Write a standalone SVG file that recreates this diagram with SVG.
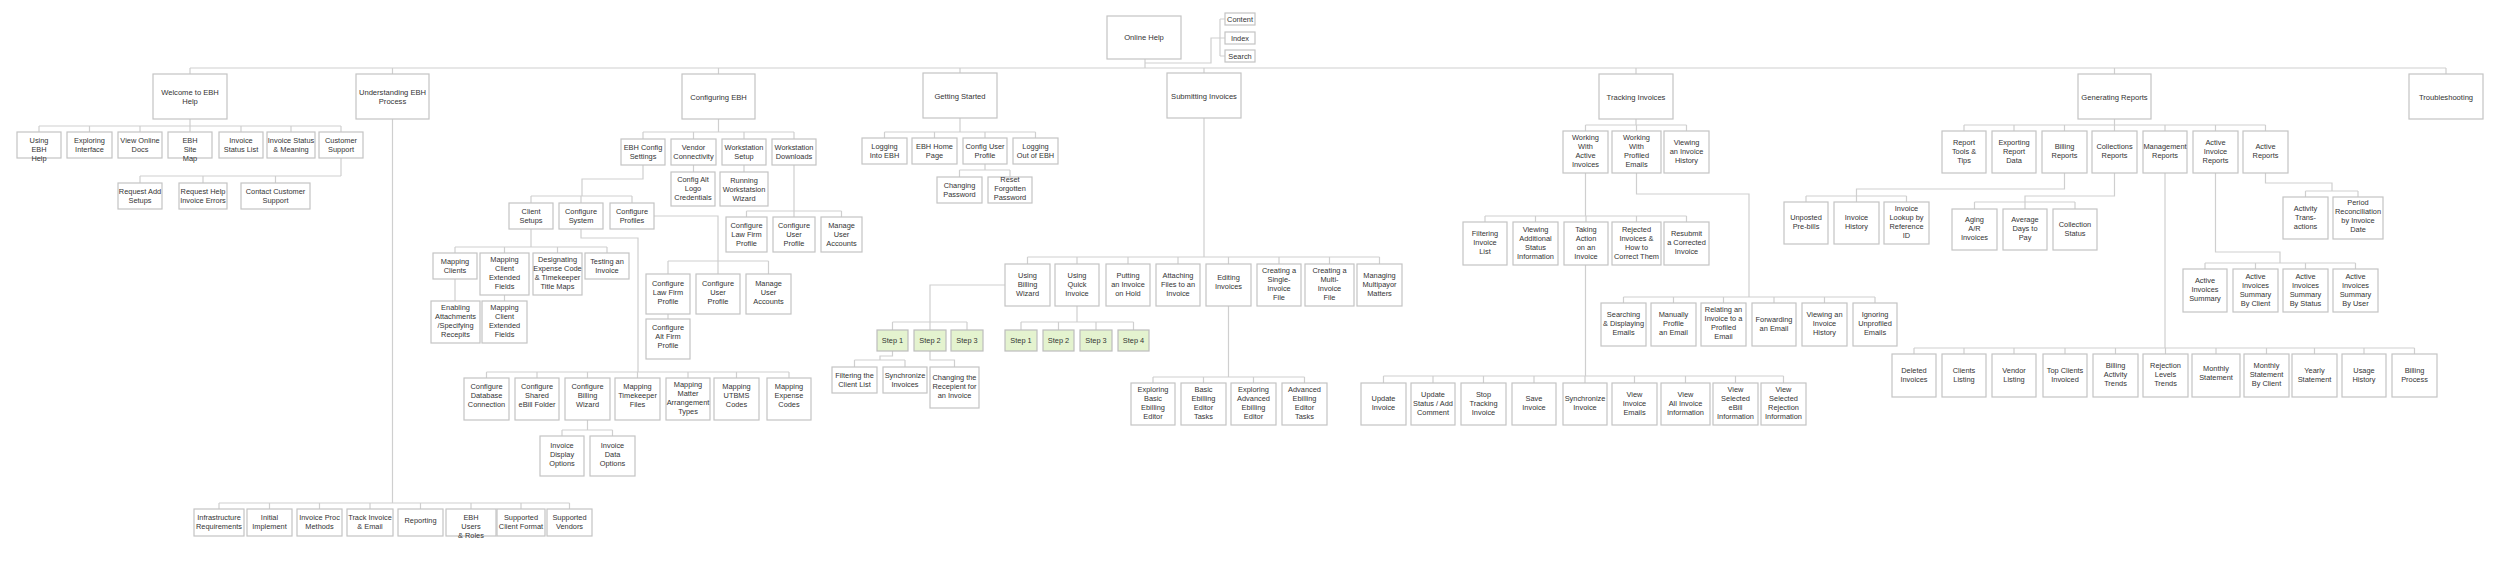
<svg xmlns="http://www.w3.org/2000/svg" width="2500" height="562" viewBox="0 0 2500 562">
<style>
rect{fill:#fff;stroke:#c4c4c4;stroke-width:1.2}
.s rect{fill:#e4f3cf;stroke:#bdbdbd}
text{font-family:"Liberation Sans",Arial,sans-serif;font-size:7.4px;fill:#333;text-anchor:middle}
.t text{font-size:7.6px}
#connectors path{fill:none;stroke:#cfcfcf;stroke-width:1.2}
</style>
<rect x="0" y="0" width="2500" height="562" style="fill:#fff;stroke:none"/>
<g id="connectors">
<path d="M190 68H2446M190 68V74M392.5 68V74M718.5 68V74M960 68V73M1204 68V73M1636 68V74M2114.5 68V74M2446 68V74"/>
<path d="M1145 59V68M1145 63H1211V38H1220M1220 19V56M1220 19H1225M1220 38H1225M1220 56H1225"/>
<path d="M190 119V126M39 126H341M39 126V132M89.5 126V132M140 126V132M190 126V132M241 126V132M291 126V132M341 126V132"/>
<path d="M341 158V176M140 176H341M140 176V183M203 176V183M275.5 176V183"/>
<path d="M392.5 119V503M219 503H569.5M219 503V509M269.5 503V509M319.5 503V509M370 503V509M420.5 503V509M471 503V509M521 503V509M569.5 503V509"/>
<path d="M718.5 119V132M643 132H794M643 132V139M693.5 132V139M744 132V139M794 132V139M693.5 165V172M744 165V172"/>
<path d="M643 165V179H582V196M531 196H632M531 196V203M581 196V203M632 196V203"/>
<path d="M531 229V247M455 247H607M455 247V253M504.5 247V253M557.5 247V253M607 247V253M455 279V301M504.5 295V301"/>
<path d="M581 229V238H638V372M486.5 372H789M486.5 372V378M537 372V378M587.5 372V378M637.5 372V378M688 372V378M736.5 372V378M789 372V378"/>
<path d="M587.5 420V430M562 430H612.5M562 430V436M612.5 430V436"/>
<path d="M654 216H718V261M668 261H768.5M668 261V274M718 261V274M768.5 261V274M668 314V319"/>
<path d="M794 165V211M746.5 211H841.5M746.5 211V217M794 211V217M841.5 211V217"/>
<path d="M960 118V132M884.5 132H1035.5M884.5 132V138M934.5 132V138M985 132V138M1035.5 132V138M985 164V170M959.5 170H1010M959.5 170V177M1010 170V177"/>
<path d="M1204 118V257M1027.5 257H1379.5M1027.5 257V264M1077 257V264M1128 257V264M1178 257V264M1228.5 257V264M1279 257V264M1329.5 257V264M1379.5 257V264"/>
<path d="M1005 285H930V322M892.5 322H967M892.5 322V330M930 322V330M967 322V330"/>
<path d="M892.5 351V356H880V360M854.5 360H905M854.5 360V367M905 360V367M930 351V360H954.5V367"/>
<path d="M1077 306V322M1021 322H1133.5M1021 322V330M1058.5 322V330M1096 322V330M1133.5 322V330"/>
<path d="M1228.5 306V377M1153 377H1304.5M1153 377V383M1203.5 377V383M1253.5 377V383M1304.5 377V383"/>
<path d="M1636 119V125M1585.5 125H1686.5M1585.5 125V131M1636.5 125V131M1686.5 125V131"/>
<path d="M1585.5 173V216M1485 216H1686.5M1485 216V222M1535.5 216V222M1586 216V222M1636.5 216V222M1686.5 216V222"/>
<path d="M1585.5 265V376M1383.5 376H1783.5M1383.5 376V383M1433 376V383M1483.5 376V383M1534 376V383M1585 376V383M1634.5 376V383M1685.5 376V383M1735.5 376V383M1783.5 376V383"/>
<path d="M1636.5 173V194H1749V297M1623.5 297H1875M1623.5 297V303M1673.5 297V303M1723.5 297V303M1774 297V303M1824.5 297V303M1875 297V303"/>
<path d="M2114.5 119V125M1964 125H2265.5M1964 125V131M2014 125V131M2064.5 125V131M2114.5 125V131M2165 125V131M2215.5 125V131M2265.5 125V131"/>
<path d="M2064.5 173V189H1856.5V196M1806 196H1906.5M1806 196V202M1856.5 196V202M1906.5 196V202"/>
<path d="M2114.5 173V196H2025V202M1974.5 202H2075M1974.5 202V209M2025 202V209M2075 202V209"/>
<path d="M2165 173V348M1914 348H2414.5M1914 348V354M1964 348V354M2014 348V354M2065 348V354M2115.5 348V354M2165.5 348V354M2216 348V354M2266.5 348V354M2314.5 348V354M2364 348V354M2414.5 348V354"/>
<path d="M2215.5 173V252H2280V263M2205 263H2355.5M2205 263V269M2255.5 263V269M2305.5 263V269M2355.5 263V269"/>
<path d="M2265.5 173V183H2332V191M2305.5 191H2358M2305.5 191V197M2358 191V197"/>
</g>

<g id="online-help" class="t"><rect x="1107" y="16" width="74" height="43"/><text x="1144" y="39.7">Online Help</text></g>
<g id="content"><rect x="1225" y="13" width="30" height="12"/><text x="1240" y="21.7">Content</text></g>
<g id="index"><rect x="1225" y="32" width="30" height="12"/><text x="1240" y="40.7">Index</text></g>
<g id="search"><rect x="1225" y="50" width="30" height="12"/><text x="1240" y="58.7">Search</text></g>

<g id="welcome" class="t"><rect x="153" y="74" width="74" height="45"/><text x="190" y="95">Welcome to EBH<tspan x="190" dy="9">Help</tspan></text></g>
<g id="understanding" class="t"><rect x="356" y="74" width="73" height="45"/><text x="392.5" y="95">Understanding EBH<tspan x="392.5" dy="9">Process</tspan></text></g>
<g id="configuring" class="t"><rect x="682" y="74" width="73" height="45"/><text x="718.5" y="99.5">Configuring EBH</text></g>
<g id="getting-started" class="t"><rect x="923" y="73" width="74" height="45"/><text x="960" y="98.5">Getting Started</text></g>
<g id="submitting" class="t"><rect x="1167" y="73" width="74" height="45"/><text x="1204" y="98.5">Submitting Invoices</text></g>
<g id="tracking" class="t"><rect x="1599" y="74" width="74" height="45"/><text x="1636" y="99.5">Tracking Invoices</text></g>
<g id="generating" class="t"><rect x="2078" y="74" width="73" height="45"/><text x="2114.5" y="99.5">Generating Reports</text></g>
<g id="troubleshooting" class="t"><rect x="2409" y="74" width="74" height="45"/><text x="2446" y="99.5">Troubleshooting</text></g>

<g id="using-ebh-help"><rect x="17" y="132" width="44" height="26"/><text x="39" y="142.8">Using<tspan x="39" dy="9">EBH</tspan><tspan x="39" dy="9">Help</tspan></text></g>
<g id="exploring-interface"><rect x="67" y="132" width="45" height="26"/><text x="89.5" y="142.8">Exploring<tspan x="89.5" dy="9">Interface</tspan></text></g>
<g id="view-online-docs"><rect x="118" y="132" width="44" height="26"/><text x="140" y="142.8">View Online<tspan x="140" dy="9">Docs</tspan></text></g>
<g id="ebh-site-map"><rect x="168" y="132" width="44" height="26"/><text x="190" y="142.8">EBH<tspan x="190" dy="9">Site</tspan><tspan x="190" dy="9">Map</tspan></text></g>
<g id="invoice-status-list"><rect x="219" y="132" width="44" height="26"/><text x="241" y="142.8">Invoice<tspan x="241" dy="9">Status List</tspan></text></g>
<g id="invoice-status-meaning"><rect x="267" y="132" width="48" height="26"/><text x="291" y="142.8">Invoice Status<tspan x="291" dy="9">&amp; Meaning</tspan></text></g>
<g id="customer-support"><rect x="319" y="132" width="44" height="26"/><text x="341" y="142.8">Customer<tspan x="341" dy="9">Support</tspan></text></g>

<g id="request-add-setups"><rect x="118" y="183" width="44" height="26"/><text x="140" y="193.8">Request Add<tspan x="140" dy="9">Setups</tspan></text></g>
<g id="request-help-invoice-errors"><rect x="179" y="183" width="48" height="26"/><text x="203" y="193.8">Request Help<tspan x="203" dy="9">Invoice Errors</tspan></text></g>
<g id="contact-customer-support"><rect x="241" y="183" width="69" height="26"/><text x="275.5" y="193.8">Contact Customer<tspan x="275.5" dy="9">Support</tspan></text></g>

<g id="infrastructure-requirements"><rect x="194" y="509" width="50" height="27"/><text x="219" y="519.9">Infrastructure<tspan x="219" dy="9">Requirements</tspan></text></g>
<g id="initial-implement"><rect x="247" y="509" width="45" height="27"/><text x="269.5" y="519.9">Initial<tspan x="269.5" dy="9">Implement</tspan></text></g>
<g id="invoice-proc-methods"><rect x="297" y="509" width="45" height="27"/><text x="319.5" y="519.9">Invoice Proc<tspan x="319.5" dy="9">Methods</tspan></text></g>
<g id="track-invoice-email"><rect x="347" y="509" width="46" height="27"/><text x="370" y="519.9">Track Invoice<tspan x="370" dy="9">&amp; Email</tspan></text></g>
<g id="reporting"><rect x="398" y="509" width="45" height="27"/><text x="420.5" y="523">Reporting</text></g>
<g id="ebh-users-roles"><rect x="446" y="509" width="50" height="27"/><text x="471" y="519.9">EBH<tspan x="471" dy="9">Users</tspan><tspan x="471" dy="9">&amp; Roles</tspan></text></g>
<g id="supported-client-format"><rect x="497" y="509" width="48" height="27"/><text x="521" y="519.9">Supported<tspan x="521" dy="9">Client Format</tspan></text></g>
<g id="supported-vendors"><rect x="547" y="509" width="45" height="27"/><text x="569.5" y="519.9">Supported<tspan x="569.5" dy="9">Vendors</tspan></text></g>

<g id="ebh-config-settings"><rect x="621" y="139" width="44" height="26"/><text x="643" y="149.8">EBH Config<tspan x="643" dy="9">Settings</tspan></text></g>
<g id="vendor-connectivity"><rect x="671" y="139" width="45" height="26"/><text x="693.5" y="149.8">Vendor<tspan x="693.5" dy="9">Connectivity</tspan></text></g>
<g id="workstation-setup"><rect x="722" y="139" width="44" height="26"/><text x="744" y="149.8">Workstation<tspan x="744" dy="9">Setup</tspan></text></g>
<g id="workstation-downloads"><rect x="772" y="139" width="44" height="26"/><text x="794" y="149.8">Workstation<tspan x="794" dy="9">Downloads</tspan></text></g>
<g id="config-alt-logo"><rect x="671" y="172" width="44" height="34"/><text x="693" y="181.5">Config Alt<tspan x="693" dy="9">Logo</tspan><tspan x="693" dy="9">Credentials</tspan></text></g>
<g id="running-workstation-wizard"><rect x="720" y="172" width="48" height="34"/><text x="744" y="182.5">Running<tspan x="744" dy="9">Workstatsion</tspan><tspan x="744" dy="9">Wizard</tspan></text></g>

<g id="client-setups"><rect x="509" y="203" width="44" height="26"/><text x="531" y="213.8">Client<tspan x="531" dy="9">Setups</tspan></text></g>
<g id="configure-system"><rect x="559" y="203" width="44" height="26"/><text x="581" y="213.8">Configure<tspan x="581" dy="9">System</tspan></text></g>
<g id="configure-profiles"><rect x="610" y="203" width="44" height="26"/><text x="632" y="213.8">Configure<tspan x="632" dy="9">Profiles</tspan></text></g>

<g id="mapping-clients"><rect x="433" y="253" width="44" height="26"/><text x="455" y="263.8">Mapping<tspan x="455" dy="9">Clients</tspan></text></g>
<g id="mapping-client-extended-fields"><rect x="480" y="253" width="49" height="42"/><text x="504.5" y="262">Mapping<tspan x="504.5" dy="9">Client</tspan><tspan x="504.5" dy="9">Extended</tspan><tspan x="504.5" dy="9">Fields</tspan></text></g>
<g id="designating-expense-code"><rect x="533" y="253" width="49" height="42"/><text x="557.5" y="262">Designating<tspan x="557.5" dy="9">Expense Code</tspan><tspan x="557.5" dy="9">&amp; Timekeeper</tspan><tspan x="557.5" dy="9">Title Maps</tspan></text></g>
<g id="testing-an-invoice"><rect x="585" y="253" width="44" height="26"/><text x="607" y="263.8">Testing an<tspan x="607" dy="9">Invoice</tspan></text></g>
<g id="enabling-attachments"><rect x="431" y="301" width="49" height="42"/><text x="455.5" y="310">Enabling<tspan x="455.5" dy="9">Attachments</tspan><tspan x="455.5" dy="9">/Specifying</tspan><tspan x="455.5" dy="9">Recepits</tspan></text></g>
<g id="mapping-client-extended-fields-2"><rect x="482" y="301" width="45" height="42"/><text x="504.5" y="310">Mapping<tspan x="504.5" dy="9">Client</tspan><tspan x="504.5" dy="9">Extended</tspan><tspan x="504.5" dy="9">Fields</tspan></text></g>

<g id="configure-database-connection"><rect x="464" y="378" width="45" height="42"/><text x="486.5" y="389">Configure<tspan x="486.5" dy="9">Database</tspan><tspan x="486.5" dy="9">Connection</tspan></text></g>
<g id="configure-shared-ebill-folder"><rect x="515" y="378" width="44" height="42"/><text x="537" y="389">Configure<tspan x="537" dy="9">Shared</tspan><tspan x="537" dy="9">eBill Folder</tspan></text></g>
<g id="configure-billing-wizard"><rect x="565" y="378" width="45" height="42"/><text x="587.5" y="389">Configure<tspan x="587.5" dy="9">Billing</tspan><tspan x="587.5" dy="9">Wizard</tspan></text></g>
<g id="mapping-timekeeper-files"><rect x="615" y="378" width="45" height="42"/><text x="637.5" y="389">Mapping<tspan x="637.5" dy="9">Timekeeper</tspan><tspan x="637.5" dy="9">Files</tspan></text></g>
<g id="mapping-matter-arrangement-types"><rect x="666" y="378" width="44" height="42"/><text x="688" y="386.7">Mapping<tspan x="688" dy="9">Matter</tspan><tspan x="688" dy="9">Arrangement</tspan><tspan x="688" dy="9">Types</tspan></text></g>
<g id="mapping-utbms-codes"><rect x="714" y="378" width="45" height="42"/><text x="736.5" y="389">Mapping<tspan x="736.5" dy="9">UTBMS</tspan><tspan x="736.5" dy="9">Codes</tspan></text></g>
<g id="mapping-expense-codes"><rect x="767" y="378" width="44" height="42"/><text x="789" y="389">Mapping<tspan x="789" dy="9">Expense</tspan><tspan x="789" dy="9">Codes</tspan></text></g>
<g id="invoice-display-options"><rect x="540" y="436" width="44" height="40"/><text x="562" y="447.5">Invoice<tspan x="562" dy="9">Display</tspan><tspan x="562" dy="9">Options</tspan></text></g>
<g id="invoice-data-options"><rect x="590" y="436" width="45" height="40"/><text x="612.5" y="447.5">Invoice<tspan x="612.5" dy="9">Data</tspan><tspan x="612.5" dy="9">Options</tspan></text></g>

<g id="profiles-law-firm"><rect x="646" y="274" width="44" height="40"/><text x="668" y="285.5">Configure<tspan x="668" dy="9">Law Firm</tspan><tspan x="668" dy="9">Profile</tspan></text></g>
<g id="profiles-user"><rect x="696" y="274" width="44" height="40"/><text x="718" y="285.5">Configure<tspan x="718" dy="9">User</tspan><tspan x="718" dy="9">Profile</tspan></text></g>
<g id="profiles-manage-users"><rect x="746" y="274" width="45" height="40"/><text x="768.5" y="285.5">Manage<tspan x="768.5" dy="9">User</tspan><tspan x="768.5" dy="9">Accounts</tspan></text></g>
<g id="profiles-alt-firm"><rect x="646" y="319" width="44" height="40"/><text x="668" y="330">Configure<tspan x="668" dy="9">Alt Firm</tspan><tspan x="668" dy="9">Profile</tspan></text></g>

<g id="downloads-law-firm"><rect x="726" y="217" width="41" height="35"/><text x="746.5" y="228">Configure<tspan x="746.5" dy="9">Law Firm</tspan><tspan x="746.5" dy="9">Profile</tspan></text></g>
<g id="downloads-user"><rect x="773" y="217" width="42" height="35"/><text x="794" y="228">Configure<tspan x="794" dy="9">User</tspan><tspan x="794" dy="9">Profile</tspan></text></g>
<g id="downloads-manage-users"><rect x="821" y="217" width="41" height="35"/><text x="841.5" y="228">Manage<tspan x="841.5" dy="9">User</tspan><tspan x="841.5" dy="9">Accounts</tspan></text></g>

<g id="logging-into"><rect x="862" y="138" width="45" height="26"/><text x="884.5" y="148.8">Logging<tspan x="884.5" dy="9">Into EBH</tspan></text></g>
<g id="ebh-home-page"><rect x="912" y="138" width="45" height="26"/><text x="934.5" y="148.8">EBH Home<tspan x="934.5" dy="9">Page</tspan></text></g>
<g id="config-user-profile"><rect x="963" y="138" width="44" height="26"/><text x="985" y="148.8">Config User<tspan x="985" dy="9">Profile</tspan></text></g>
<g id="logging-out"><rect x="1013" y="138" width="45" height="26"/><text x="1035.5" y="148.8">Logging<tspan x="1035.5" dy="9">Out of EBH</tspan></text></g>
<g id="changing-password"><rect x="937" y="177" width="45" height="26"/><text x="959.5" y="187.8">Changing<tspan x="959.5" dy="9">Password</tspan></text></g>
<g id="reset-password"><rect x="988" y="177" width="44" height="26"/><text x="1010" y="181.7">Reset<tspan x="1010" dy="9">Forgotten</tspan><tspan x="1010" dy="9">Password</tspan></text></g>

<g id="using-billing-wizard"><rect x="1005" y="264" width="45" height="42"/><text x="1027.5" y="277.5">Using<tspan x="1027.5" dy="9">Billing</tspan><tspan x="1027.5" dy="9">Wizard</tspan></text></g>
<g id="using-quick-invoice"><rect x="1055" y="264" width="44" height="42"/><text x="1077" y="277.5">Using<tspan x="1077" dy="9">Quick</tspan><tspan x="1077" dy="9">Invoice</tspan></text></g>
<g id="putting-on-hold"><rect x="1106" y="264" width="44" height="42"/><text x="1128" y="277.5">Putting<tspan x="1128" dy="9">an Invoice</tspan><tspan x="1128" dy="9">on Hold</tspan></text></g>
<g id="attaching-files"><rect x="1156" y="264" width="44" height="42"/><text x="1178" y="277.5">Attaching<tspan x="1178" dy="9">Files to an</tspan><tspan x="1178" dy="9">Invoice</tspan></text></g>
<g id="editing-invoices"><rect x="1206" y="264" width="45" height="42"/><text x="1228.5" y="280">Editing<tspan x="1228.5" dy="9">Invoices</tspan></text></g>
<g id="creating-single"><rect x="1257" y="264" width="44" height="42"/><text x="1279" y="272.7">Creating a<tspan x="1279" dy="9">Single-</tspan><tspan x="1279" dy="9">Invoice</tspan><tspan x="1279" dy="9">File</tspan></text></g>
<g id="creating-multi"><rect x="1305" y="264" width="49" height="42"/><text x="1329.5" y="272.7">Creating a<tspan x="1329.5" dy="9">Multi-</tspan><tspan x="1329.5" dy="9">Invoice</tspan><tspan x="1329.5" dy="9">File</tspan></text></g>
<g id="managing-multipayor"><rect x="1357" y="264" width="45" height="42"/><text x="1379.5" y="277.5">Managing<tspan x="1379.5" dy="9">Multipayor</tspan><tspan x="1379.5" dy="9">Matters</tspan></text></g>

<g id="bw-step-1" class="s"><rect x="877" y="330" width="31" height="21"/><text x="892.5" y="342.7">Step 1</text></g>
<g id="bw-step-2" class="s"><rect x="914" y="330" width="32" height="21"/><text x="930" y="342.7">Step 2</text></g>
<g id="bw-step-3" class="s"><rect x="951" y="330" width="32" height="21"/><text x="967" y="342.7">Step 3</text></g>
<g id="qi-step-1" class="s"><rect x="1005" y="330" width="32" height="21"/><text x="1021" y="342.7">Step 1</text></g>
<g id="qi-step-2" class="s"><rect x="1043" y="330" width="31" height="21"/><text x="1058.5" y="342.7">Step 2</text></g>
<g id="qi-step-3" class="s"><rect x="1080" y="330" width="32" height="21"/><text x="1096" y="342.7">Step 3</text></g>
<g id="qi-step-4" class="s"><rect x="1118" y="330" width="31" height="21"/><text x="1133.5" y="342.7">Step 4</text></g>

<g id="filtering-client-list"><rect x="832" y="367" width="45" height="26"/><text x="854.5" y="377.8">Filtering the<tspan x="854.5" dy="9">Client List</tspan></text></g>
<g id="synchronize-invoices"><rect x="883" y="367" width="44" height="26"/><text x="905" y="377.8">Synchronize<tspan x="905" dy="9">Invoices</tspan></text></g>
<g id="changing-recepient"><rect x="930" y="367" width="49" height="41"/><text x="954.5" y="380">Changing the<tspan x="954.5" dy="9">Recepient for</tspan><tspan x="954.5" dy="9">an Invoice</tspan></text></g>

<g id="exploring-basic-editor"><rect x="1131" y="383" width="44" height="42"/><text x="1153" y="392">Exploring<tspan x="1153" dy="9">Basic</tspan><tspan x="1153" dy="9">Ebilling</tspan><tspan x="1153" dy="9">Editor</tspan></text></g>
<g id="basic-editor-tasks"><rect x="1181" y="383" width="45" height="42"/><text x="1203.5" y="392">Basic<tspan x="1203.5" dy="9">Ebilling</tspan><tspan x="1203.5" dy="9">Editor</tspan><tspan x="1203.5" dy="9">Tasks</tspan></text></g>
<g id="exploring-advanced-editor"><rect x="1231" y="383" width="45" height="42"/><text x="1253.5" y="392">Exploring<tspan x="1253.5" dy="9">Advanced</tspan><tspan x="1253.5" dy="9">Ebilling</tspan><tspan x="1253.5" dy="9">Editor</tspan></text></g>
<g id="advanced-editor-tasks"><rect x="1282" y="383" width="45" height="42"/><text x="1304.5" y="392">Advanced<tspan x="1304.5" dy="9">Ebilling</tspan><tspan x="1304.5" dy="9">Editor</tspan><tspan x="1304.5" dy="9">Tasks</tspan></text></g>

<g id="working-active-invoices"><rect x="1563" y="131" width="45" height="42"/><text x="1585.5" y="140">Working<tspan x="1585.5" dy="9">With</tspan><tspan x="1585.5" dy="9">Active</tspan><tspan x="1585.5" dy="9">Invoices</tspan></text></g>
<g id="working-profiled-emails"><rect x="1612" y="131" width="49" height="42"/><text x="1636.5" y="140">Working<tspan x="1636.5" dy="9">With</tspan><tspan x="1636.5" dy="9">Profiled</tspan><tspan x="1636.5" dy="9">Emails</tspan></text></g>
<g id="viewing-invoice-history"><rect x="1664" y="131" width="45" height="42"/><text x="1686.5" y="144.5">Viewing<tspan x="1686.5" dy="9">an Invoice</tspan><tspan x="1686.5" dy="9">History</tspan></text></g>

<g id="filtering-invoice-list"><rect x="1463" y="222" width="44" height="43"/><text x="1485" y="236">Filtering<tspan x="1485" dy="9">Invoice</tspan><tspan x="1485" dy="9">List</tspan></text></g>
<g id="viewing-additional-status"><rect x="1513" y="222" width="45" height="43"/><text x="1535.5" y="231.5">Viewing<tspan x="1535.5" dy="9">Additional</tspan><tspan x="1535.5" dy="9">Status</tspan><tspan x="1535.5" dy="9">Information</tspan></text></g>
<g id="taking-action"><rect x="1564" y="222" width="44" height="43"/><text x="1586" y="231.5">Taking<tspan x="1586" dy="9">Action</tspan><tspan x="1586" dy="9">on an</tspan><tspan x="1586" dy="9">Invoice</tspan></text></g>
<g id="rejected-invoices"><rect x="1612" y="222" width="49" height="43"/><text x="1636.5" y="231.5">Rejected<tspan x="1636.5" dy="9">Invoices &amp;</tspan><tspan x="1636.5" dy="9">How to</tspan><tspan x="1636.5" dy="9">Correct Them</tspan></text></g>
<g id="resubmit-corrected"><rect x="1664" y="222" width="45" height="43"/><text x="1686.5" y="236">Resubmit<tspan x="1686.5" dy="9">a Corrected</tspan><tspan x="1686.5" dy="9">Invoice</tspan></text></g>

<g id="update-invoice"><rect x="1361" y="383" width="45" height="42"/><text x="1383.5" y="401">Update<tspan x="1383.5" dy="9">Invoice</tspan></text></g>
<g id="update-status"><rect x="1411" y="383" width="44" height="42"/><text x="1433" y="396.5">Update<tspan x="1433" dy="9">Status / Add</tspan><tspan x="1433" dy="9">Comment</tspan></text></g>
<g id="stop-tracking"><rect x="1461" y="383" width="45" height="42"/><text x="1483.5" y="396.5">Stop<tspan x="1483.5" dy="9">Tracking</tspan><tspan x="1483.5" dy="9">Invoice</tspan></text></g>
<g id="save-invoice"><rect x="1512" y="383" width="44" height="42"/><text x="1534" y="401">Save<tspan x="1534" dy="9">Invoice</tspan></text></g>
<g id="synchronize-invoice"><rect x="1563" y="383" width="44" height="42"/><text x="1585" y="401">Synchronize<tspan x="1585" dy="9">Invoice</tspan></text></g>
<g id="view-invoice-emails"><rect x="1612" y="383" width="45" height="42"/><text x="1634.5" y="396.5">View<tspan x="1634.5" dy="9">Invoice</tspan><tspan x="1634.5" dy="9">Emails</tspan></text></g>
<g id="view-all-invoice-info"><rect x="1661" y="383" width="49" height="42"/><text x="1685.5" y="396.5">View<tspan x="1685.5" dy="9">All Invoice</tspan><tspan x="1685.5" dy="9">Information</tspan></text></g>
<g id="view-selected-ebill"><rect x="1713" y="383" width="45" height="42"/><text x="1735.5" y="392">View<tspan x="1735.5" dy="9">Selected</tspan><tspan x="1735.5" dy="9">eBill</tspan><tspan x="1735.5" dy="9">Information</tspan></text></g>
<g id="view-selected-rejection"><rect x="1761" y="383" width="45" height="42"/><text x="1783.5" y="392">View<tspan x="1783.5" dy="9">Selected</tspan><tspan x="1783.5" dy="9">Rejection</tspan><tspan x="1783.5" dy="9">Information</tspan></text></g>

<g id="searching-emails"><rect x="1601" y="303" width="45" height="43"/><text x="1623.5" y="317">Searching<tspan x="1623.5" dy="9">&amp; Displaying</tspan><tspan x="1623.5" dy="9">Emails</tspan></text></g>
<g id="manually-profile"><rect x="1651" y="303" width="45" height="43"/><text x="1673.5" y="317">Manually<tspan x="1673.5" dy="9">Profile</tspan><tspan x="1673.5" dy="9">an Email</tspan></text></g>
<g id="relating-invoice"><rect x="1701" y="303" width="45" height="43"/><text x="1723.5" y="312">Relating an<tspan x="1723.5" dy="9">Invoice to a</tspan><tspan x="1723.5" dy="9">Profiled</tspan><tspan x="1723.5" dy="9">Email</tspan></text></g>
<g id="forwarding-email"><rect x="1752" y="303" width="44" height="43"/><text x="1774" y="321.5">Forwarding<tspan x="1774" dy="9">an Email</tspan></text></g>
<g id="viewing-invoice-history-2"><rect x="1802" y="303" width="45" height="43"/><text x="1824.5" y="317">Viewing an<tspan x="1824.5" dy="9">Invoice</tspan><tspan x="1824.5" dy="9">History</tspan></text></g>
<g id="ignoring-unprofiled"><rect x="1853" y="303" width="44" height="43"/><text x="1875" y="317">Ignoring<tspan x="1875" dy="9">Unprofiled</tspan><tspan x="1875" dy="9">Emails</tspan></text></g>

<g id="report-tools"><rect x="1942" y="131" width="44" height="42"/><text x="1964" y="144.5">Report<tspan x="1964" dy="9">Tools &amp;</tspan><tspan x="1964" dy="9">Tips</tspan></text></g>
<g id="exporting-report-data"><rect x="1992" y="131" width="44" height="42"/><text x="2014" y="144.5">Exporting<tspan x="2014" dy="9">Report</tspan><tspan x="2014" dy="9">Data</tspan></text></g>
<g id="billing-reports"><rect x="2042" y="131" width="45" height="42"/><text x="2064.5" y="149">Billing<tspan x="2064.5" dy="9">Reports</tspan></text></g>
<g id="collections-reports"><rect x="2092" y="131" width="45" height="42"/><text x="2114.5" y="149">Collections<tspan x="2114.5" dy="9">Reports</tspan></text></g>
<g id="management-reports"><rect x="2143" y="131" width="44" height="42"/><text x="2165" y="149">Management<tspan x="2165" dy="9">Reports</tspan></text></g>
<g id="active-invoice-reports"><rect x="2193" y="131" width="45" height="42"/><text x="2215.5" y="144.5">Active<tspan x="2215.5" dy="9">Invoice</tspan><tspan x="2215.5" dy="9">Reports</tspan></text></g>
<g id="active-reports"><rect x="2243" y="131" width="45" height="42"/><text x="2265.5" y="149">Active<tspan x="2265.5" dy="9">Reports</tspan></text></g>

<g id="unposted-prebills"><rect x="1784" y="202" width="44" height="42"/><text x="1806" y="220">Unposted<tspan x="1806" dy="9">Pre-bills</tspan></text></g>
<g id="invoice-history"><rect x="1834" y="202" width="45" height="42"/><text x="1856.5" y="220">Invoice<tspan x="1856.5" dy="9">History</tspan></text></g>
<g id="invoice-lookup"><rect x="1884" y="202" width="45" height="42"/><text x="1906.5" y="211">Invoice<tspan x="1906.5" dy="9">Lookup by</tspan><tspan x="1906.5" dy="9">Reference</tspan><tspan x="1906.5" dy="9">ID</tspan></text></g>

<g id="aging-ar"><rect x="1952" y="209" width="45" height="41"/><text x="1974.5" y="222">Aging<tspan x="1974.5" dy="9">A/R</tspan><tspan x="1974.5" dy="9">Invoices</tspan></text></g>
<g id="average-days"><rect x="2003" y="209" width="44" height="41"/><text x="2025" y="222">Average<tspan x="2025" dy="9">Days to</tspan><tspan x="2025" dy="9">Pay</tspan></text></g>
<g id="collection-status"><rect x="2053" y="209" width="44" height="41"/><text x="2075" y="226.5">Collection<tspan x="2075" dy="9">Status</tspan></text></g>

<g id="deleted-invoices"><rect x="1892" y="354" width="44" height="43"/><text x="1914" y="372.5">Deleted<tspan x="1914" dy="9">Invoices</tspan></text></g>
<g id="clients-listing"><rect x="1942" y="354" width="44" height="43"/><text x="1964" y="372.5">Clients<tspan x="1964" dy="9">Listing</tspan></text></g>
<g id="vendor-listing"><rect x="1992" y="354" width="44" height="43"/><text x="2014" y="372.5">Vendor<tspan x="2014" dy="9">Listing</tspan></text></g>
<g id="top-clients"><rect x="2043" y="354" width="44" height="43"/><text x="2065" y="372.5">Top Clients<tspan x="2065" dy="9">Invoiced</tspan></text></g>
<g id="billing-activity-trends"><rect x="2093" y="354" width="45" height="43"/><text x="2115.5" y="368">Billing<tspan x="2115.5" dy="9">Activity</tspan><tspan x="2115.5" dy="9">Trends</tspan></text></g>
<g id="rejection-levels-trends"><rect x="2143" y="354" width="45" height="43"/><text x="2165.5" y="368">Rejection<tspan x="2165.5" dy="9">Levels</tspan><tspan x="2165.5" dy="9">Trends</tspan></text></g>
<g id="monthly-statement"><rect x="2192" y="354" width="48" height="43"/><text x="2216" y="370.5">Monthly<tspan x="2216" dy="9">Statement</tspan></text></g>
<g id="monthly-statement-client"><rect x="2244" y="354" width="45" height="43"/><text x="2266.5" y="368">Monthly<tspan x="2266.5" dy="9">Statement</tspan><tspan x="2266.5" dy="9">By Client</tspan></text></g>
<g id="yearly-statement"><rect x="2292" y="354" width="45" height="43"/><text x="2314.5" y="372.5">Yearly<tspan x="2314.5" dy="9">Statement</tspan></text></g>
<g id="usage-history"><rect x="2342" y="354" width="44" height="43"/><text x="2364" y="372.5">Usage<tspan x="2364" dy="9">History</tspan></text></g>
<g id="billing-process"><rect x="2392" y="354" width="45" height="43"/><text x="2414.5" y="372.5">Billing<tspan x="2414.5" dy="9">Process</tspan></text></g>

<g id="active-invoices-summary"><rect x="2183" y="269" width="44" height="43"/><text x="2205" y="283">Active<tspan x="2205" dy="9">Invoices</tspan><tspan x="2205" dy="9">Summary</tspan></text></g>
<g id="summary-by-client"><rect x="2233" y="269" width="45" height="43"/><text x="2255.5" y="278.5">Active<tspan x="2255.5" dy="9">Invoices</tspan><tspan x="2255.5" dy="9">Summary</tspan><tspan x="2255.5" dy="9">By Client</tspan></text></g>
<g id="summary-by-status"><rect x="2283" y="269" width="45" height="43"/><text x="2305.5" y="278.5">Active<tspan x="2305.5" dy="9">Invoices</tspan><tspan x="2305.5" dy="9">Summary</tspan><tspan x="2305.5" dy="9">By Status</tspan></text></g>
<g id="summary-by-user"><rect x="2333" y="269" width="45" height="43"/><text x="2355.5" y="278.5">Active<tspan x="2355.5" dy="9">Invoices</tspan><tspan x="2355.5" dy="9">Summary</tspan><tspan x="2355.5" dy="9">By User</tspan></text></g>

<g id="activity-transactions"><rect x="2283" y="197" width="45" height="42"/><text x="2305.5" y="210.5">Activity<tspan x="2305.5" dy="9">Trans-</tspan><tspan x="2305.5" dy="9">actions</tspan></text></g>
<g id="period-reconciliation"><rect x="2333" y="197" width="50" height="42"/><text x="2358" y="204.5">Period<tspan x="2358" dy="9">Reconciliation</tspan><tspan x="2358" dy="9">by Invoice</tspan><tspan x="2358" dy="9">Date</tspan></text></g>
</svg>
